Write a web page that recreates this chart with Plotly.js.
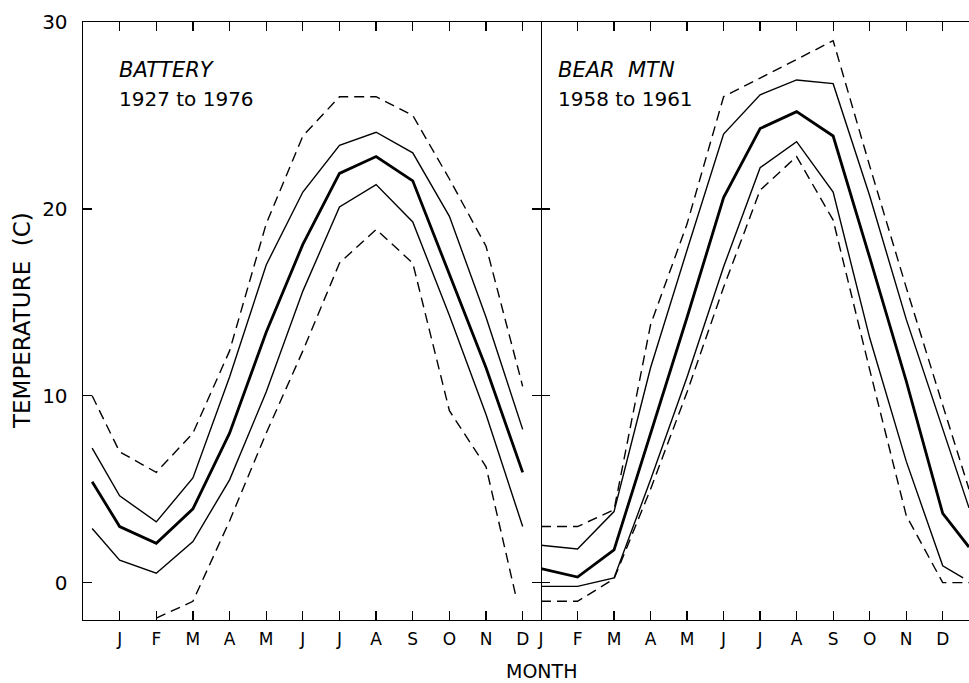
<!DOCTYPE html>
<html>
<head>
<meta charset="utf-8">
<script src="https://cdn.plot.ly/plotly-3.0.1.min.js"></script>
<style>
  html, body { margin: 0; padding: 0; background: #fff; }
  #chart { width: 969px; height: 683px; }
</style>
</head>
<body>
<div id="chart"></div>
<script>
// ---------- DATA ----------
const monthLabels = ['J','F','M','A','M','J','J','A','S','O','N','D'];
const monthTicks  = [1,2,3,4,5,6,7,8,9,10,11,12];
const tempTicks   = [0,10,20,30];

// BATTERY 1927 to 1976
const batteryX        = [0.25,1,2,3,4,5,6,7,8,9,10,11,12];
const batteryMax      = [10.0,7.0,5.9,8.0,12.4,19.2,23.9,26.0,26.0,25.0,21.6,18.0,10.5];
const batteryUpper    = [7.2,4.65,3.25,5.6,11.0,17.0,20.9,23.4,24.1,23.0,19.6,14.2,8.2];
const batteryMean     = [5.4,3.0,2.1,3.95,8.0,13.4,18.1,21.9,22.8,21.5,16.5,11.5,5.9];
const batteryLower    = [2.9,1.2,0.5,2.2,5.5,10.2,15.6,20.1,21.3,19.3,14.3,9.0,3.0];
const batteryMinX     = [2,3,4,5,6,7,8,9,10,11,11.8];
const batteryMin      = [-1.9,-1.0,3.3,8.0,12.4,17.1,18.9,17.1,9.2,6.2,-0.6];

// BEAR MTN 1958 to 1961
const bearX           = [1,2,3,4,5,6,7,8,9,10,11,12,12.72];
const bearMax         = [3.0,3.0,3.9,13.8,19.2,26.0,27.0,28.0,29.0,22.3,15.8,9.5,5.0];
const bearUpper       = [2.0,1.8,3.8,11.5,17.8,24.0,26.1,26.9,26.7,20.7,14.1,8.2,4.0];
const bearMean        = [0.75,0.3,1.75,8.0,14.2,20.6,24.3,25.2,23.9,17.4,10.8,3.7,1.9];
const bearLowerX      = [1,2,3,4,5,6,7,8,9,10,11,12,12.56];
const bearLower       = [-0.2,-0.2,0.25,5.5,11.0,16.9,22.2,23.6,20.9,13.1,6.5,0.9,0.25];
const bearMin         = [-1.0,-1.0,0.2,5.0,10.2,15.8,21.0,22.8,19.4,11.4,3.6,0.0,0.0];

// ---------- STYLES ----------
const thin  = {color:'#000', width:1.4};
const thick = {color:'#000', width:2.8};
const dash  = {color:'#000', width:1.4, dash:'10px,6px'};

function tr(x, y, line, xa, ya) {
  return {x:x, y:y, type:'scatter', mode:'lines', line:line,
          xaxis:xa, yaxis:ya, hoverinfo:'skip', showlegend:false};
}

const data = [
  tr(batteryX, batteryMax, dash, 'x', 'y'),
  tr(batteryX, batteryUpper, thin, 'x', 'y'),
  tr(batteryX, batteryMean, thick, 'x', 'y'),
  tr(batteryX, batteryLower, thin, 'x', 'y'),
  tr(batteryMinX, batteryMin, dash, 'x', 'y'),
  tr(bearX, bearMax, dash, 'x2', 'y2'),
  tr(bearX, bearUpper, thin, 'x2', 'y2'),
  tr(bearX, bearMean, thick, 'x2', 'y2'),
  tr(bearLowerX, bearLower, thin, 'x2', 'y2'),
  tr(bearX, bearMin, dash, 'x2', 'y2')
];

const FONT = 'DejaVu Sans, Liberation Sans, sans-serif';
const split = (541 - 83) / 886;

const xCommon = {
  tickvals: monthTicks, ticktext: monthLabels,
  ticks: 'inside', ticklen: 9, tickwidth: 1.3, tickcolor: '#000',
  showline: true, linecolor: '#000', linewidth: 1.4, mirror: 'ticks',
  showgrid: false, zeroline: false, fixedrange: true,
  tickfont: {family: FONT, size: 17, color: '#000'},
  ticklabelstandoff: 3
};
const yCommon = {
  range: [-2, 30], tickvals: tempTicks,
  ticks: 'inside', ticklen: 9, tickwidth: 1.3, tickcolor: '#000',
  linecolor: '#000', linewidth: 1.4,
  showgrid: false, zeroline: false, fixedrange: true,
  tickfont: {family: FONT, size: 20, color: '#000'}
};

const layout = {
  width: 969, height: 683,
  margin: {l: 83, r: 0, t: 22, b: 63},
  paper_bgcolor: '#fff', plot_bgcolor: '#fff',
  showlegend: false,
  xaxis: Object.assign({}, xCommon, {domain: [0, split], range: [0, 12.5], anchor: 'y'}),
  xaxis2: Object.assign({}, xCommon, {domain: [split, 1], range: [1, 12.72], anchor: 'y2'}),
  yaxis: Object.assign({}, yCommon, {domain: [0, 1], anchor: 'x', showline: true, mirror: 'ticks', ticklabelstandoff: 10}),
  yaxis2: Object.assign({}, yCommon, {domain: [0, 1], anchor: 'x2', showline: false, showticklabels: false}),
  annotations: [
    {text: '<i>BATTERY</i>', xref: 'x', yref: 'y', x: 0.92, y: 27.45, xanchor: 'left', yanchor: 'middle',
     showarrow: false, font: {family: FONT, size: 21, color: '#000'}},
    {text: '1927 to 1976', xref: 'x', yref: 'y', x: 0.92, y: 25.9, xanchor: 'left', yanchor: 'middle',
     showarrow: false, font: {family: FONT, size: 20, color: '#000'}},
    {text: '<i>BEAR  MTN</i>', xref: 'x2', yref: 'y2', x: 1.41, y: 27.45, xanchor: 'left', yanchor: 'middle',
     showarrow: false, font: {family: FONT, size: 21, color: '#000'}},
    {text: '1958 to 1961', xref: 'x2', yref: 'y2', x: 1.41, y: 25.9, xanchor: 'left', yanchor: 'middle',
     showarrow: false, font: {family: FONT, size: 20, color: '#000'}},
    {text: 'MONTH', xref: 'paper', yref: 'paper', x: split, y: -0.0853, xanchor: 'center', yanchor: 'middle',
     showarrow: false, font: {family: FONT, size: 19, color: '#000'}},
    {text: 'TEMPERATURE  (C)', xref: 'paper', yref: 'paper', x: -0.0688, y: 0.5, xanchor: 'center', yanchor: 'middle',
     textangle: -90, showarrow: false, font: {family: FONT, size: 23, color: '#000'}}
  ]
};

Plotly.newPlot('chart', data, layout, {displayModeBar: false, staticPlot: true});
</script>
</body>
</html>
